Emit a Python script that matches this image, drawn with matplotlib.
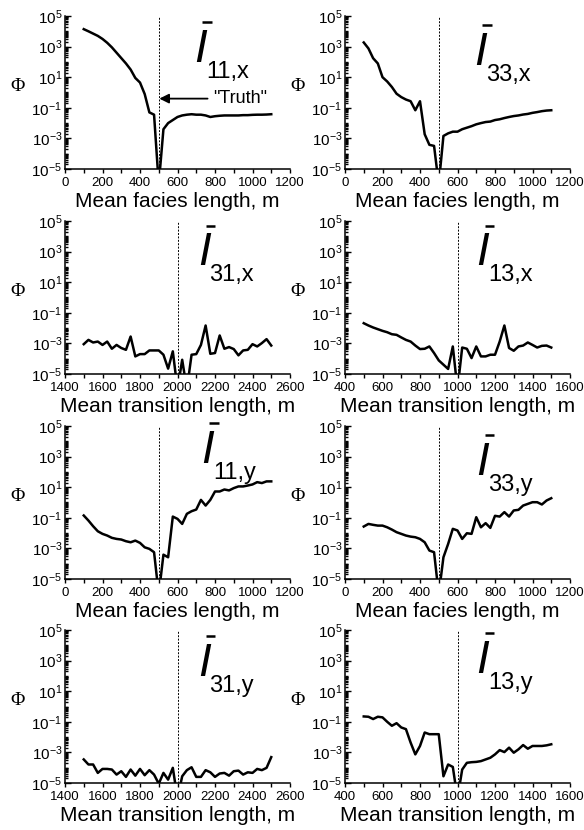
import numpy as np
import matplotlib
matplotlib.use("Agg")
import matplotlib.pyplot as plt
from matplotlib.ticker import FixedLocator, LogLocator, MultipleLocator, NullFormatter

plt.rcParams['font.family'] = ['Liberation Sans', 'DejaVu Sans']
plt.rcParams['mathtext.fontset'] = 'custom'
plt.rcParams['mathtext.rm'] = 'Liberation Sans'
plt.rcParams['mathtext.it'] = 'Liberation Sans:italic'

# x grids (m)
facies_x = list(range(100, 1101, 25))
trans_x_31 = list(range(1500, 2501, 25))
trans_x_13 = list(range(500, 1501, 25))

# log10 of objective function (values < -5 are off-axis dips)
phi_11x = [4.14, 4.0, 3.85, 3.7, 3.5, 3.25, 2.95, 2.6, 2.25, 1.9, 1.5, 0.95, 0.65,
           -0.1, -1.3, -1.45, -6, -2.4, -2.0, -1.8, -1.6, -1.5, -1.45, -1.42, -1.45,
           -1.45, -1.5, -1.6, -1.55, -1.52, -1.5, -1.5, -1.5, -1.5, -1.48, -1.48,
           -1.46, -1.45, -1.45, -1.44, -1.42]
phi_33x = [3.27, 2.88, 2.24, 1.9, 1.0, 0.72, 0.36, -0.08, -0.3, -0.46, -0.57, -1.16,
           -0.57, -2.73, -3.42, -3.49, -6, -2.84, -2.67, -2.56, -2.56, -2.4, -2.3,
           -2.2, -2.08, -2.0, -1.93, -1.9, -1.8, -1.75, -1.67, -1.6, -1.54, -1.5,
           -1.44, -1.4, -1.33, -1.28, -1.22, -1.18, -1.16]
phi_31x = [-3.05, -2.77, -2.94, -2.88, -3.1, -2.88, -3.35, -3.1, -3.3, -3.42, -2.55,
           -3.85, -3.7, -3.7, -3.46, -3.46, -3.46, -3.74, -4.65, -3.52, -6, -4.07,
           -6, -3.74, -3.7, -3.1, -1.83, -3.68, -3.63, -2.48, -3.35, -3.24, -3.37,
           -3.78, -3.46, -3.42, -3.05, -3.2, -2.98, -2.72, -3.14]
phi_13x = [-1.68, -1.83, -1.96, -2.07, -2.18, -2.27, -2.4, -2.44, -2.61, -2.77, -2.88,
           -3.14, -3.37, -3.35, -3.2, -3.63, -4.11, -4.39, -4.67, -3.2, -6, -3.27,
           -3.35, -3.96, -3.2, -3.85, -3.85, -3.74, -3.74, -2.88, -1.83, -3.3, -3.48,
           -3.2, -3.14, -2.94, -3.1, -3.27, -3.16, -3.14, -3.27]
phi_11y = [-0.85, -1.18, -1.55, -1.88, -2.05, -2.16, -2.31, -2.38, -2.42, -2.53, -2.6,
           -2.49, -2.64, -2.93, -3.03, -3.25, -6, -3.41, -3.58, -0.92, -1.07, -1.4,
           -0.74, -0.57, -0.46, 0.17, -0.2, 0.17, 0.72, 0.72, 0.85, 0.79, 0.94, 1.05,
           1.05, 1.11, 1.18, 1.33, 1.27, 1.38, 1.38]
phi_33y = [-1.57, -1.4, -1.46, -1.51, -1.51, -1.62, -1.77, -1.94, -2.05, -2.16, -2.23,
           -2.27, -2.38, -2.6, -3.14, -3.25, -6, -3.58, -2.71, -1.72, -1.83, -2.38,
           -2.01, -2.05, -0.96, -1.62, -1.35, -1.66, -0.87, -0.92, -0.63, -0.92, -0.52,
           -0.48, -0.2, -0.09, 0.02, 0.02, -0.13, 0.13, 0.28]
phi_31y = [-3.46, -3.79, -3.79, -4.34, -4.08, -4.08, -4.12, -4.45, -4.23, -4.6, -4.12,
           -4.52, -4.08, -4.49, -4.16, -4.45, -5.05, -4.34, -4.78, -4.01, -6, -4.56,
           -4.16, -3.97, -4.6, -4.6, -4.16, -4.3, -4.6, -4.38, -4.34, -4.52, -4.23,
           -4.19, -4.45, -4.3, -4.34, -4.08, -4.16, -4.01, -3.31]
phi_13y = [-0.65, -0.67, -0.82, -0.67, -0.71, -1.0, -1.26, -1.09, -1.37, -1.48, -2.36,
           -3.13, -2.58, -1.7, -1.81, -1.81, -1.81, -4.56, -3.79, -3.95, -6, -4.12,
           -3.68, -3.64, -3.62, -3.57, -3.46, -3.35, -3.13, -2.85, -2.98, -2.69, -3.02,
           -2.8, -2.52, -2.76, -2.58, -2.58, -2.58, -2.54, -2.47]

panels = [
    (facies_x, phi_11x, 500, (0, 1200), "11,x", "Mean facies length, m"),
    (facies_x, phi_33x, 500, (0, 1200), "33,x", "Mean facies length, m"),
    (trans_x_31, phi_31x, 2000, (1400, 2600), "31,x", "Mean transition length, m"),
    (trans_x_13, phi_13x, 1000, (400, 1600), "13,x", "Mean transition length, m"),
    (facies_x, phi_11y, 500, (0, 1200), "11,y", "Mean facies length, m"),
    (facies_x, phi_33y, 500, (0, 1200), "33,y", "Mean facies length, m"),
    (trans_x_31, phi_31y, 2000, (1400, 2600), "31,y", "Mean transition length, m"),
    (trans_x_13, phi_13y, 1000, (400, 1600), "13,y", "Mean transition length, m"),
]
# baseline position of the big italic I (axes fraction)
label_pos = [(0.575, 0.70), (0.575, 0.68), (0.59, 0.71), (0.585, 0.71),
             (0.605, 0.757), (0.585, 0.68), (0.59, 0.70), (0.585, 0.72)]

fig = plt.figure(figsize=(5.84, 8.30), dpi=100)
W, H = 584, 830
col_left = [65, 345]
row_top = [16, 221, 426, 630]
aw, ah = 225, 153

for i, (x, logphi, truth, xlim, sub, xlabel) in enumerate(panels):
    r, c = divmod(i, 2)
    ax = fig.add_axes([col_left[c] / W, 1 - (row_top[r] + ah) / H, aw / W, ah / H])
    ax.plot(x, 10.0 ** np.array(logphi), color='black', lw=1.8)
    ax.axvline(truth, color='black', lw=0.7, ls=(0, (2, 1.5)))
    ax.set_yscale('log')
    ax.set_ylim(1e-5, 1e5)
    ax.set_xlim(*xlim)
    ax.spines['top'].set_visible(False)
    ax.spines['right'].set_visible(False)
    for s in ('left', 'bottom'):
        ax.spines[s].set_linewidth(1.1)
    ax.yaxis.set_major_locator(FixedLocator([1e-5, 1e-3, 1e-1, 1e1, 1e3, 1e5]))
    ax.yaxis.set_minor_locator(LogLocator(base=10, subs=np.arange(1, 10), numticks=20))
    ax.yaxis.set_minor_formatter(NullFormatter())
    ax.set_yticklabels([r'$10^{-5}$', r'$10^{-3}$', r'$10^{-1}$', r'$10^{1}$',
                        r'$10^{3}$', r'$10^{5}$'])
    ax.xaxis.set_major_locator(MultipleLocator(200))
    ax.xaxis.set_minor_locator(MultipleLocator(100))
    ax.tick_params(axis='y', which='both', direction='in', width=1.0)
    ax.tick_params(axis='y', which='major', length=4)
    ax.tick_params(axis='y', which='minor', length=2.5)
    ax.tick_params(axis='x', which='both', direction='out', width=1.0, length=3)
    ax.tick_params(axis='y', labelsize=11, pad=2)
    ax.tick_params(axis='x', labelsize=9.5, pad=3)
    ax.set_xlabel(xlabel, fontsize=15, labelpad=2)
    ax.set_ylabel('Φ', fontsize=14, family='Liberation Serif', rotation=0,
                  va='center', ha='center')
    ax.yaxis.set_label_coords(-0.21, 0.54)
    lx, ly = label_pos[i]
    ax.text(lx, ly, 'I', transform=ax.transAxes, fontsize=33, style='italic',
            ha='left', va='baseline')
    ax.plot([lx + 0.035, lx + 0.078], [ly + 0.26, ly + 0.26], transform=ax.transAxes,
            color='black', lw=1.8, clip_on=False, solid_capstyle='butt')
    ax.text(lx + 0.052, ly - 0.105, sub, transform=ax.transAxes, fontsize=17,
            ha='left', va='baseline')
    if i == 0:
        ax.annotate('"Truth"', xy=(503, 10 ** -0.4), xytext=(790, 10 ** -0.4),
                    fontsize=13, va='center', ha='left',
                    arrowprops=dict(arrowstyle='-|>', color='black', lw=1.3,
                                    mutation_scale=14, shrinkA=2, shrinkB=0))

fig.savefig('out.png', dpi=100)
